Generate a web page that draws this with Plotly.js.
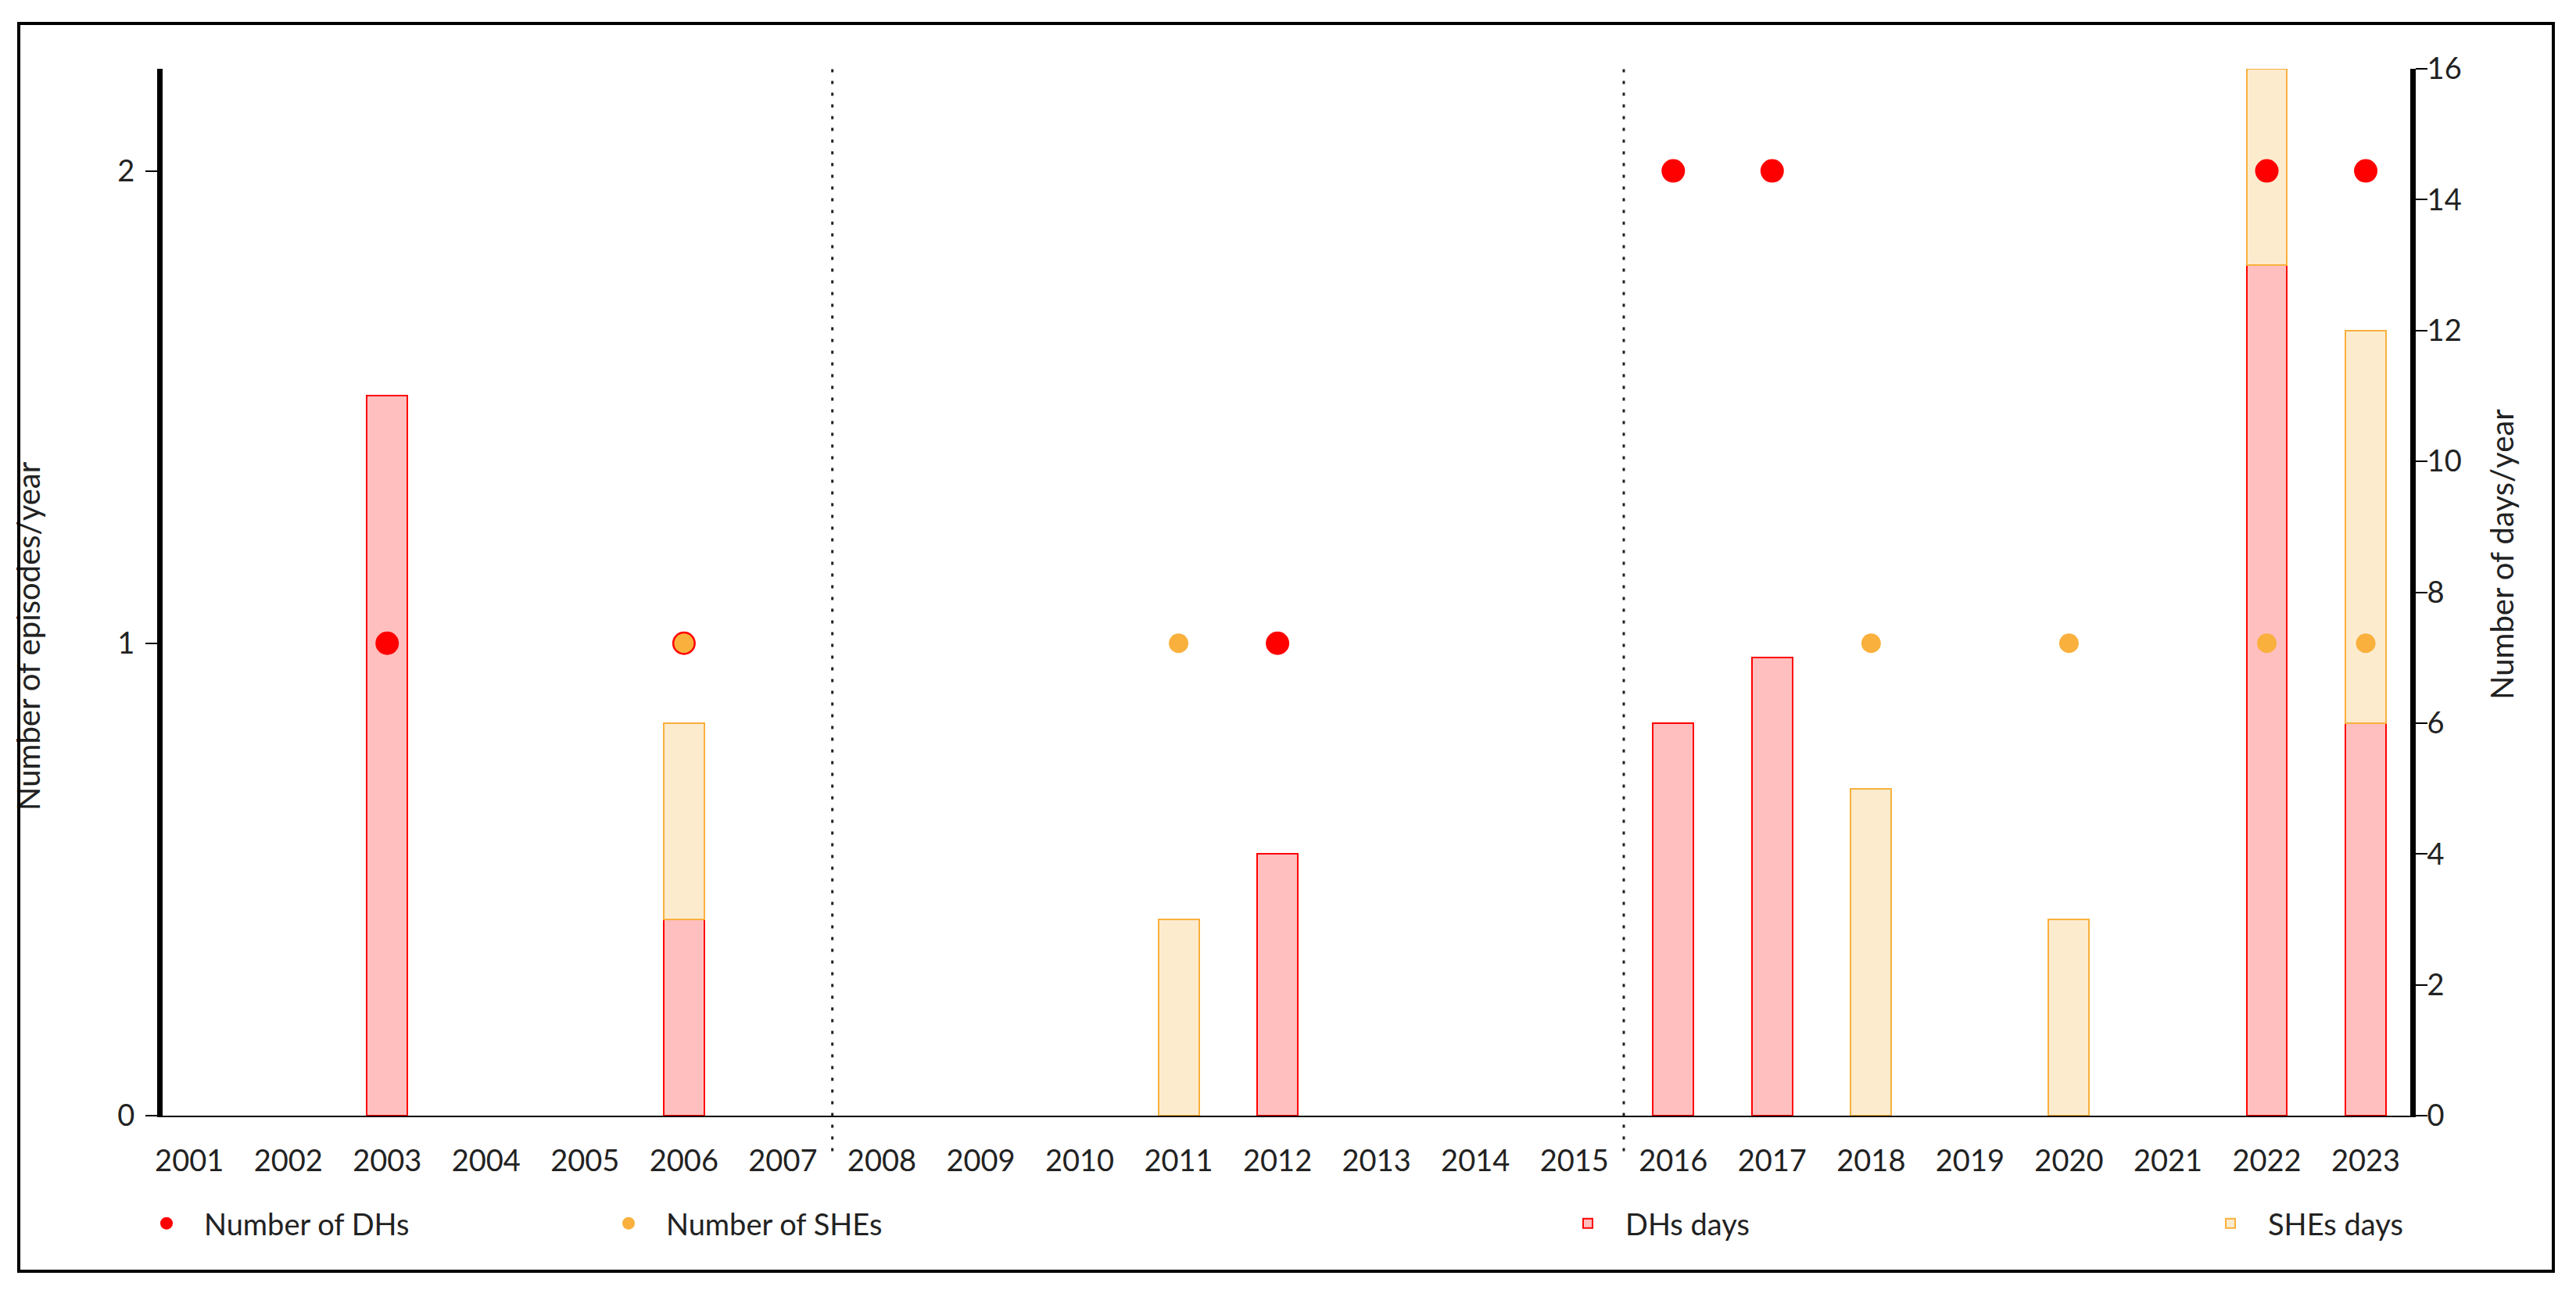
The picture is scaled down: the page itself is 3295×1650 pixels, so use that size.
<!DOCTYPE html>
<html>
<head>
<meta charset="utf-8">
<script src="https://cdn.plot.ly/plotly-3.0.1.min.js"></script>
<style>
  html, body { margin: 0; padding: 0; background: #fff; }
  #chart { width: 3295px; height: 1650px; position: absolute; left: 0; top: 0; }
  #frame { position: absolute; left: 22px; top: 28px; width: 3238px; height: 1592px;
           border: 4px solid #000; pointer-events: none; box-sizing: content-box; }
</style>
</head>
<body>
<div id="chart"></div>
<div id="frame"></div>
<script>
// ---- Data ----
const years = [2001,2002,2003,2004,2005,2006,2007,2008,2009,2010,2011,2012,2013,2014,2015,2016,2017,2018,2019,2020,2021,2022,2023];
const yearLabels = years.map(String);

// Number of days per year (right axis); null = no episode that year
const dhDays  = [null,null,11,null,null,3,null,null,null,null,null,4,null,null,null,6,7,null,null,null,null,13,6];
const sheDays = [null,null,null,null,null,3,null,null,null,null,3,null,null,null,null,null,null,5,null,3,null,3,6]; // stacked on top of DHs days

// Number of episodes per year (left axis)
const dhYears  = [2003,2006,2012,2016,2017,2022,2023];
const dhCount  = [1,1,1,2,2,2,2];
const sheYears = [2006,2011,2018,2020,2022,2023];
const sheCount = [1,1,1,1,1,1];

const periodBreaks = [2007.5, 2015.5];

const RED = '#FF0000';
const ORANGE = '#F9B03D';
const FONT = 'Lato, "Open Sans", sans-serif';
const TXT = '#222222';

const traces = [
  {
    type: 'bar', name: 'DHs days', x: years, y: dhDays, yaxis: 'y', width: 0.41,
    marker: { color: 'rgba(255,0,0,0.25)', line: { color: RED, width: 2 } },
    legend: 'legend3', hoverinfo: 'x+y'
  },
  {
    type: 'bar', name: 'SHEs days', x: years, y: sheDays, yaxis: 'y', width: 0.41,
    marker: { color: 'rgba(249,176,61,0.25)', line: { color: ORANGE, width: 2 } },
    legend: 'legend4', hoverinfo: 'x+y'
  },
  {
    type: 'scatter', mode: 'markers', name: 'Number of DHs', x: dhYears, y: dhCount, yaxis: 'y2',
    marker: { color: RED, size: 30 }, legend: 'legend'
  },
  {
    type: 'scatter', mode: 'markers', name: 'Number of SHEs', x: sheYears, y: sheCount, yaxis: 'y2',
    marker: { color: ORANGE, size: 25 }, legend: 'legend2'
  }
];

const L = 208, R = 3083, T = 88, B = 1427;
const pw = R - L, ph = B - T;
const px = v => (v - L) / pw;
const py = v => (B - v) / ph;

const legendBase = {
  orientation: 'h', yanchor: 'middle', xanchor: 'left', y: py(1565),
  font: { family: FONT, size: 38, color: TXT }, bgcolor: 'rgba(0,0,0,0)',
  itemwidth: 86, itemsizing: 'trace'
};

const shapes = periodBreaks.map(xb => ({
  type: 'line', xref: 'x', yref: 'paper', x0: xb, x1: xb, y0: -0.034, y1: 1,
  line: { color: '#222', width: 3, dash: '4px,11px' }
}));

const layout = {
  width: 3295, height: 1650,
  margin: { l: L, r: 3295 - R, t: T, b: 1650 - B },
  paper_bgcolor: '#fff', plot_bgcolor: '#fff',
  font: { family: FONT, size: 38, color: TXT },
  barmode: 'stack',
  showlegend: true,
  xaxis: {
    type: 'linear', range: [2000.73, 2023.45],
    tickmode: 'array', tickvals: years, ticktext: yearLabels,
    showline: true, linecolor: '#000', linewidth: 2,
    ticks: '', showgrid: false, zeroline: false,
    ticklabelstandoff: 23,
    tickfont: { family: FONT, size: 38, color: TXT }
  },
  yaxis: {
    side: 'right', range: [0, 16], dtick: 2, tick0: 0,
    showline: true, linecolor: '#000', linewidth: 7,
    ticks: 'outside', ticklen: 15, tickwidth: 2, tickcolor: '#000',
    showgrid: false, zeroline: false, ticklabelstandoff: -8,
    tickfont: { family: FONT, size: 38, color: TXT }
  },
  yaxis2: {
    side: 'left', overlaying: 'y', range: [0, 2.216],
    tickmode: 'array', tickvals: [0, 1, 2], ticktext: ['0', '1', '2'],
    showline: true, linecolor: '#000', linewidth: 7,
    ticks: 'outside', ticklen: 15, tickwidth: 2, tickcolor: '#000',
    showgrid: false, zeroline: false, ticklabelstandoff: 6,
    tickfont: { family: FONT, size: 38, color: TXT }
  },
  legend:  Object.assign({}, legendBase, { x: px(165) }),
  legend2: Object.assign({}, legendBase, { x: px(756) }),
  legend3: Object.assign({}, legendBase, { x: px(1983) }),
  legend4: Object.assign({}, legendBase, { x: px(2805) }),
  shapes: shapes,
  annotations: [
    { text: 'Number of episodes/year', xref: 'paper', yref: 'paper', x: px(36), y: py(814),
      textangle: -90, showarrow: false, xanchor: 'center', yanchor: 'middle',
      font: { family: FONT, size: 40, color: TXT } },
    { text: 'Number of days/year', xref: 'paper', yref: 'paper', x: px(3200), y: py(709),
      textangle: -90, showarrow: false, xanchor: 'center', yanchor: 'middle',
      font: { family: FONT, size: 40, color: TXT } }
  ]
};

Plotly.newPlot('chart', traces, layout, { staticPlot: true, displayModeBar: false });
</script>
</body>
</html>
